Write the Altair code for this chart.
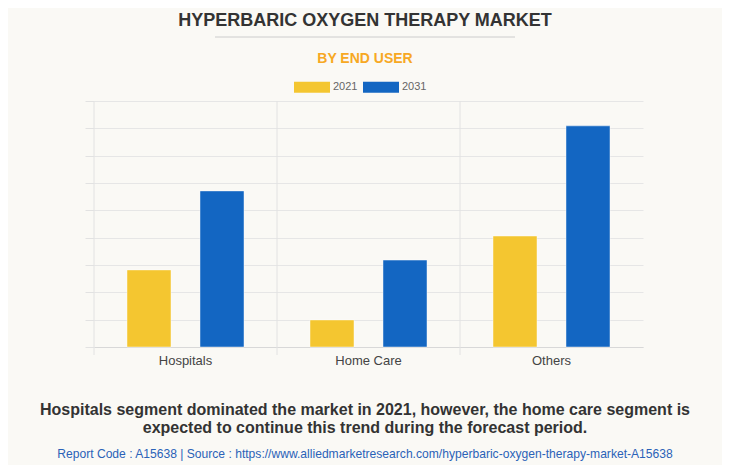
import altair as alt
import pandas as pd

categories = ["Hospitals", "Home Care", "Others"]
years = ["2021", "2031"]
values_2021 = [2.82, 0.99, 4.06]
values_2031 = [5.71, 3.18, 8.09]
colors = ["#F4C630", "#1366C2"]

title_text = "HYPERBARIC OXYGEN THERAPY MARKET"
subtitle_text = "BY END USER"
caption_lines = [
    "Hospitals segment dominated the market in 2021, however, the home care segment is",
    "expected to continue this trend during the forecast period.",
]
source_text = "Report Code : A15638  |  Source : https://www.alliedmarketresearch.com/hyperbaric-oxygen-therapy-market-A15638"

rows = []
for i, c in enumerate(categories):
    rows.append({"cat": c, "year": years[0], "value": values_2021[i]})
    rows.append({"cat": c, "year": years[1], "value": values_2031[i]})
df = pd.DataFrame(rows)
cat_df = pd.DataFrame({"cat": categories})

W, H = 549, 246
BG = "#FAF9F5"

xscale = alt.Scale(domain=categories, paddingInner=0, paddingOuter=0)

bars = alt.Chart(df).mark_bar(stroke="#ffffff", strokeWidth=1, strokeOpacity=0.45).encode(
    x=alt.X("cat:N", scale=xscale, sort=categories,
            axis=alt.Axis(title=None, labelAngle=0, grid=False, ticks=False, domain=True,
                          domainColor="#d8d8d8", labelFontSize=13, labelColor="#444444",
                          labelFont="Liberation Sans", labelPadding=7)),
    xOffset=alt.XOffset("year:N", scale=alt.Scale(paddingInner=0.397, paddingOuter=0.452)),
    y=alt.Y("value:Q", scale=alt.Scale(domain=[0, 9], nice=False),
            axis=alt.Axis(title=None, labels=False, values=list(range(0, 10)), tickSize=9,
                          tickColor="#e2e2e2", domain=False, grid=True, gridColor="#e6e6e6")),
    color=alt.Color("year:N", scale=alt.Scale(domain=years, range=colors),
                    legend=alt.Legend(title=None, orient="none", direction="horizontal",
                                      legendX=200, legendY=-32,
                                      symbolType="M-1,-0.3056H1V0.3056H-1Z", symbolSize=1296,
                                      symbolStrokeWidth=0, symbolOpacity=1,
                                      labelFontSize=11, labelColor="#666666",
                                      labelFont="Liberation Sans", labelOffset=3,
                                      columnPadding=5)),
)

vlines = alt.Chart(cat_df).mark_rule(color="#e2e2e2", strokeWidth=1).encode(
    x=alt.X("cat:N", scale=xscale, sort=categories, bandPosition=0, axis=None),
    y=alt.value(0),
    y2=alt.value(H + 8),
)

title = alt.Chart(pd.DataFrame({"t": [title_text]})).mark_text(
    fontSize=18, fontWeight="bold", font="Liberation Sans", color="#333333",
    baseline="middle", align="center").encode(
    text="t:N", x=alt.value(271), y=alt.value(-80))

sep = alt.Chart(pd.DataFrame({"a": [0]})).mark_rule(color="#cccccc", strokeWidth=1).encode(
    x=alt.value(121), x2=alt.value(421), y=alt.value(-64))

subtitle = alt.Chart(pd.DataFrame({"t": [subtitle_text]})).mark_text(
    fontSize=14, fontWeight="bold", font="Liberation Sans", color="#F7A823",
    baseline="middle", align="center").encode(
    text="t:N", x=alt.value(271), y=alt.value(-42))

cap1 = alt.Chart(pd.DataFrame({"t": [caption_lines[0]]})).mark_text(
    fontSize=16, fontWeight="bold", font="Liberation Sans", color="#333333",
    baseline="middle", align="center").encode(text="t:N", x=alt.value(271), y=alt.value(309))
cap2 = alt.Chart(pd.DataFrame({"t": [caption_lines[1]]})).mark_text(
    fontSize=16, fontWeight="bold", font="Liberation Sans", color="#333333",
    baseline="middle", align="center").encode(text="t:N", x=alt.value(271), y=alt.value(327))

source = alt.Chart(pd.DataFrame({"t": [source_text]})).mark_text(
    fontSize=12.1, font="Liberation Sans", color="#2A62B8",
    baseline="middle", align="center").encode(text="t:N", x=alt.value(271), y=alt.value(353))

chart = alt.layer(vlines, bars, title, sep, subtitle, cap1, cap2, source).resolve_axis(
    x="independent"
).properties(
    width=W, height=H,
    autosize=alt.AutoSizeParams(type="none"),
    padding={"left": 86, "top": 93, "right": 79, "bottom": 118},
    background=BG,
).configure_view(stroke=None)

chart.save("out.html", embed_options={"renderer": "svg", "actions": False})
